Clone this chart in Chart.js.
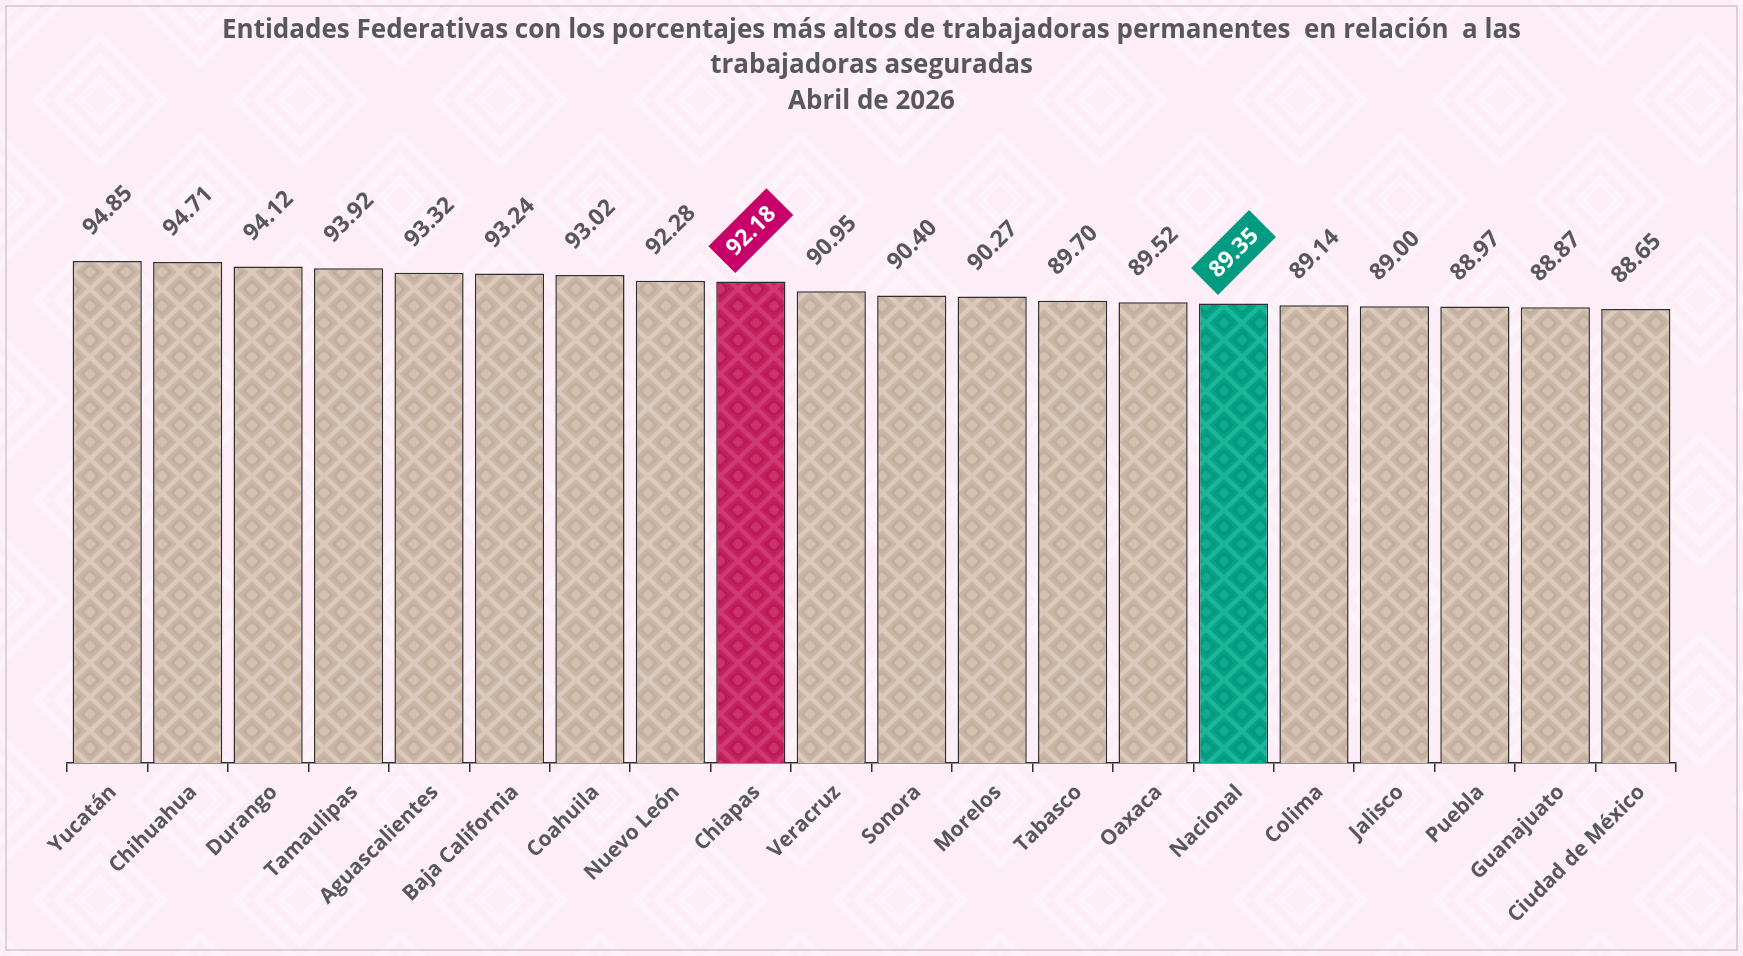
<!DOCTYPE html>
<html>
<head>
<meta charset="utf-8">
<script src="https://cdn.jsdelivr.net/npm/chart.js@4.4.1/dist/chart.umd.min.js"></script>
<style>
  html, body { margin: 0; padding: 0; background: #fcedf6; }
  #myChart { display: block; }
</style>
</head>
<body>
<canvas id="myChart" width="1743" height="956"></canvas>
<script>
const estados = ['Yucatán','Chihuahua','Durango','Tamaulipas','Aguascalientes','Baja California','Coahuila','Nuevo León','Chiapas','Veracruz','Sonora','Morelos','Tabasco','Oaxaca','Nacional','Colima','Jalisco','Puebla','Guanajuato','Ciudad de México'];
const porcentajes = [94.85,94.71,94.12,93.92,93.32,93.24,93.02,92.28,92.18,90.95,90.40,90.27,89.70,89.52,89.35,89.14,89.00,88.97,88.87,88.65];
const destacados = { 'Chiapas': 'rosa', 'Nacional': 'verde' };
const titulo = ['Entidades Federativas con los porcentajes más altos de trabajadoras permanentes  en relación  a las', 'trabajadoras aseguradas', 'Abril de 2026'];

// tile for bar fill: diamond lattice, darker inner diamond, light cross
function makePattern(base, dark, light, cross) {
  const w = 36, h = 34;
  const c = document.createElement('canvas');
  c.width = w; c.height = h;
  const g = c.getContext('2d');
  g.fillStyle = base;
  g.fillRect(0, 0, w, h);
  const centers = [[w / 2, 0], [w / 2, h], [0, h / 2], [w, h / 2]];
  centers.forEach(p => {
    g.fillStyle = dark;
    g.beginPath();
    g.moveTo(p[0], p[1] - 10); g.lineTo(p[0] + 10.5, p[1]);
    g.lineTo(p[0], p[1] + 10); g.lineTo(p[0] - 10.5, p[1]); g.closePath();
    g.fill();
    g.fillStyle = cross;
    g.fillRect(p[0] - 1.5, p[1] - 5, 3, 10);
    g.fillRect(p[0] - 5, p[1] - 1.5, 10, 3);
    g.fillRect(p[0] - 3.5, p[1] - 3.5, 7, 7);
  });
  g.strokeStyle = light;
  g.lineWidth = 4.5;
  g.beginPath();
  for (let k = -2; k <= 2; k++) {
    g.moveTo(k * w, 0); g.lineTo(k * w + w, h);
    g.moveTo(k * w + w, 0); g.lineTo(k * w, h);
  }
  g.stroke();
  return g.createPattern(c, 'repeat');
}

function makeBackground() {
  const s = 200;
  const c = document.createElement('canvas');
  c.width = s; c.height = s;
  const g = c.getContext('2d');
  g.fillStyle = '#fcedf6';
  g.fillRect(0, 0, s, s);
  g.strokeStyle = 'rgba(255,255,255,0.38)';
  g.lineWidth = 8;
  const pts = [[0, 0], [s, 0], [0, s], [s, s], [s / 2, s / 2]];
  pts.forEach(p => {
    [20, 42, 64].forEach(r => {
      g.beginPath();
      g.moveTo(p[0], p[1] - r); g.lineTo(p[0] + r, p[1]);
      g.lineTo(p[0], p[1] + r); g.lineTo(p[0] - r, p[1]); g.closePath();
      g.stroke();
    });
  });
  return g.createPattern(c, 'repeat');
}

const patronCafe = makePattern('#cbb7a7', '#c4ae9d', '#dbcabc', '#d3c1b2');
const patronRosa = makePattern('#c5225f', '#bc1a57', '#d03a72', '#cc336b');
const patronVerde = makePattern('#03a387', '#00997f', '#1cb59a', '#10ab90');
const fondo = makeBackground();

const colores = estados.map(e => destacados[e] === 'rosa' ? patronRosa : destacados[e] === 'verde' ? patronVerde : patronCafe);

const fondoPlugin = {
  id: 'fondo',
  beforeDraw(chart) {
    const ctx = chart.ctx;
    ctx.save();
    ctx.fillStyle = fondo;
    ctx.fillRect(0, 0, chart.width, chart.height);
    ctx.strokeStyle = '#d0c8cd';
    ctx.lineWidth = 1.5;
    ctx.strokeRect(6, 6, chart.width - 12, chart.height - 12);
    ctx.restore();
  }
};

const etiquetasPlugin = {
  id: 'etiquetas',
  afterDatasetsDraw(chart) {
    const ctx = chart.ctx;
    const meta = chart.getDatasetMeta(0);
    ctx.save();
    ctx.font = 'bold 23px "Open Sans"';
    ctx.textAlign = 'center';
    ctx.textBaseline = 'middle';
    meta.data.forEach((bar, i) => {
      const txt = porcentajes[i].toFixed(2);
      const tipo = destacados[estados[i]];
      ctx.save();
      ctx.translate(bar.x, bar.y - 51);
      ctx.rotate(-Math.PI / 4);
      if (tipo) {
        ctx.fillStyle = tipo === 'rosa' ? '#c8006a' : '#009b80';
        ctx.fillRect(-41, -19, 82, 38);
        ctx.fillStyle = '#ffffff';
      } else {
        ctx.fillStyle = '#58585a';
      }
      ctx.fillText(txt, 0, 1);
      ctx.restore();
    });
    ctx.restore();
  }
};

const ctx = document.querySelector('#myChart').getContext('2d');
const myChart = new Chart(ctx, {
  type: 'bar',
  data: {
    labels: estados,
    datasets: [{
      data: porcentajes,
      backgroundColor: colores,
      borderColor: '#2f2f2f',
      borderWidth: 1.5,
      borderSkipped: 'bottom',
      categoryPercentage: 0.86,
      barPercentage: 1
    }]
  },
  options: {
    responsive: false,
    animation: false,
    layout: { padding: { left: 67, right: 67, top: 0, bottom: 0 } },
    plugins: {
      legend: { display: false },
      tooltip: { enabled: false },
      title: {
        display: true,
        text: titulo,
        color: '#58585a',
        font: { family: 'Open Sans', size: 26, weight: 'bold', lineHeight: 1.36 },
        padding: { top: 13, bottom: 102 }
      }
    },
    scales: {
      y: { display: false, min: 30, max: 100 },
      x: {
        afterFit: s => { s.height = 193; },
        border: { display: true, color: '#2f2f2f', width: 1.5 },
        grid: { display: true, drawOnChartArea: false, drawTicks: true, tickLength: 9, color: '#2f2f2f', lineWidth: 1.5, offset: true },
        ticks: {
          color: '#58585a',
          font: { family: 'Open Sans', size: 21, weight: 'bold' },
          maxRotation: 45,
          minRotation: 45,
          padding: 8,
          labelOffset: 6,
          autoSkip: false
        }
      }
    }
  },
  plugins: [fondoPlugin, etiquetasPlugin]
});
</script>
</body>
</html>
